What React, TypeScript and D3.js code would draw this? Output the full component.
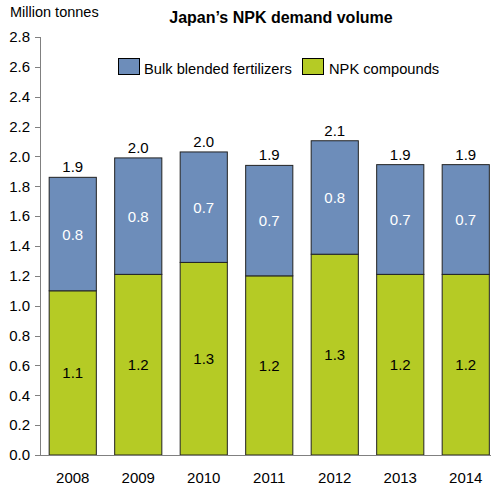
import React from 'react';
import * as d3 from 'd3';

const years = ['2008', '2009', '2010', '2011', '2012', '2013', '2014'];
const npkCompounds = [1.1, 1.21, 1.29, 1.2, 1.345, 1.21, 1.21];
const bulkBlended = [0.76, 0.78, 0.74, 0.74, 0.76, 0.735, 0.735];
const yTicks = [0, 0.2, 0.4, 0.6, 0.8, 1.0, 1.2, 1.4, 1.6, 1.8, 2.0, 2.2, 2.4, 2.6, 2.8];

const W = 491;
const H = 489;
const FONT = 'Liberation Sans, Arial, sans-serif';
const BLUE = '#6d8dba';
const GREEN = '#b5cb25';
const AXIS = '#808080';

const App = () => {
    const x = d3.scaleBand()
        .domain(years)
        .range([40, 498.5])
        .paddingInner(0.28)
        .paddingOuter(0.14);

    const y = d3.scaleLinear().domain([0, 2.8]).range([455, 37]);
    const fmt = d3.format('.1f');

    const rows = years.map((yr, i) => ({
        year: yr,
        npk: npkCompounds[i],
        bulk: bulkBlended[i],
        total: npkCompounds[i] + bulkBlended[i]
    }));

    return (
        <svg width={W} height={H} style={{ position: 'absolute', left: 0, top: 0 }} fontFamily={FONT}>
            <rect width={W} height={H} fill="#fff" />
            <text x={10} y={17} fontSize={14.5} fill="#000">Million tonnes</text>
            <text x={281} y={23} fontSize={16} fontWeight="bold" textAnchor="middle" fill="#000">
                Japan’s NPK demand volume
            </text>

            {/* legend */}
            <rect x={118.5} y={58.5} width={21} height={16} fill={BLUE} stroke="#000" />
            <text x={144} y={73.5} fontSize={14.7} fill="#000">Bulk blended fertilizers</text>
            <rect x={302.5} y={58.5} width={21} height={16} fill={GREEN} stroke="#000" />
            <text x={329} y={73.5} fontSize={14.7} fill="#000">NPK compounds</text>

            {/* y axis */}
            {yTicks.map(t => (
                <g key={t}>
                    <line x1={35} x2={40} y1={Math.round(y(t)) + 0.5} y2={Math.round(y(t)) + 0.5} stroke={AXIS} />
                    <text x={30} y={y(t) + 5.3} fontSize={15} textAnchor="end" fill="#000">{fmt(t)}</text>
                </g>
            ))}
            <line x1={40.5} x2={40.5} y1={37} y2={455.5} stroke={AXIS} />

            {/* bars */}
            {rows.map(d => {
                const x0 = x(d.year)!;
                const bw = x.bandwidth();
                const cx = x0 + bw / 2;
                return (
                    <g key={d.year}>
                        <rect x={x0} y={y(d.npk)} width={bw} height={y(0) - y(d.npk)}
                            fill={GREEN} stroke="#222" strokeWidth={1} />
                        <rect x={x0} y={y(d.total)} width={bw} height={y(d.npk) - y(d.total)}
                            fill={BLUE} stroke="#222" strokeWidth={1} />
                        <text x={cx} y={(y(0) + y(d.npk)) / 2 + 5.5} fontSize={15} textAnchor="middle" fill="#000">
                            {fmt(d.npk)}
                        </text>
                        <text x={cx} y={(y(d.npk) + y(d.total)) / 2 + 5.5} fontSize={15} textAnchor="middle" fill="#fff">
                            {fmt(d.bulk)}
                        </text>
                        <text x={cx} y={y(d.total) - 5} fontSize={15} textAnchor="middle" fill="#000">
                            {fmt(d.total)}
                        </text>
                        <text x={cx} y={483} fontSize={15} textAnchor="middle" fill="#000">{d.year}</text>
                    </g>
                );
            })}

            {/* x axis */}
            <line x1={40} x2={W} y1={455.5} y2={455.5} stroke={AXIS} />
        </svg>
    );
};

export default App;
